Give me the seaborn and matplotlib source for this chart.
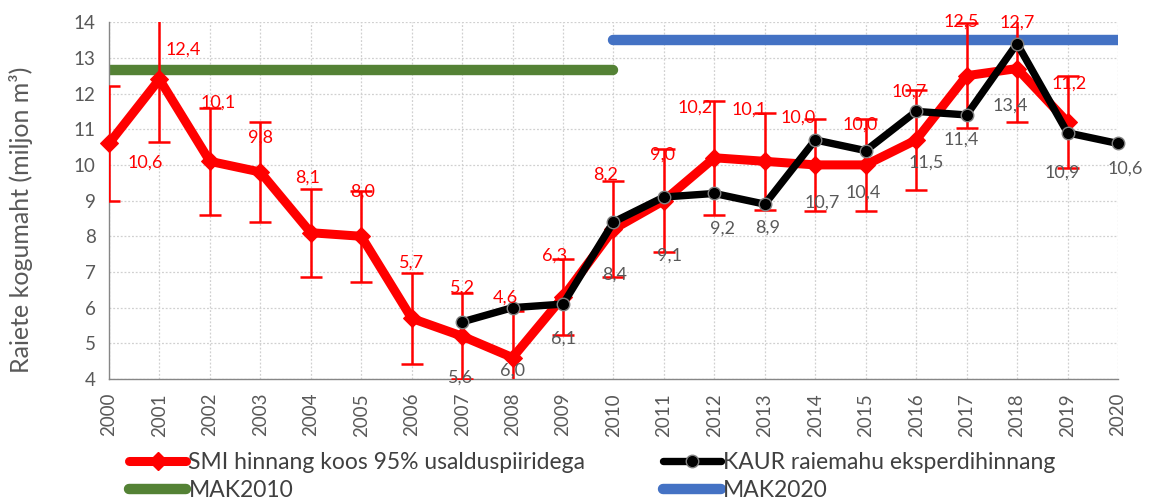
import numpy as np
import pandas as pd
import seaborn as sns
import matplotlib.pyplot as plt
from matplotlib.lines import Line2D

# data
smi_years = list(range(2000, 2020))
smi_values = [10.6, 12.4, 10.1, 9.8, 8.1, 8.0, 5.7, 5.2, 4.6, 6.3,
              8.2, 9.0, 10.2, 10.1, 10.0, 10.0, 10.7, 12.5, 12.7, 11.2]
smi_err = [1.6, 1.75, 1.5, 1.4, 1.23, 1.27, 1.27, 1.2, 1.3, 1.06,
           1.35, 1.45, 1.6, 1.35, 1.3, 1.3, 1.4, 1.47, 1.5, 1.3]
kaur_years = list(range(2007, 2021))
kaur_values = [5.6, 6.0, 6.1, 8.4, 9.1, 9.2, 8.9, 10.7, 10.4, 11.5, 11.4, 13.4, 10.9, 10.6]
mak2010_years = [2000, 2010]
mak2010_level = [12.65, 12.65]
mak2020_years = [2010, 2020]
mak2020_level = [13.5, 13.5]

# label offsets in points (placement only)
smi_lbl_off = [(26, -14), (17, 21), (6, 42), (0, 25), (-2, 40), (1, 32), (0, 40), (0, 35),
               (-5, 43), (-6, 30), (-6, 39), (-1, 33), (-14, 36), (-11, 37), (-12, 34),
               (-4, 29), (-5, 35), (-4, 39), (0, 33), (1, 28)]
kaur_lbl_off = [(-1, -40), (0, -45), (0, -25), (1, -38), (4, -42), (6, -25), (2, -17),
                (5, -45), (-2, -30), (7, -37), (-4, -18), (-5, -45), (-4, -29), (5, -18)]

RED = "#FF0000"
GREEN = "#548235"
BLUE = "#4472C4"
GRAY = "#595959"

sns.set_style("white")
plt.rcParams["font.family"] = ["Lato", "DejaVu Sans"]

fig = plt.figure(figsize=(11.51, 5.04), dpi=100)
ax = fig.add_axes([0.0947, 0.248, 0.9713 - 0.0947, 0.956 - 0.248])

ax.grid(True, color="#d0d0d0", linestyle=(0, (1.5, 1.5)), linewidth=0.9)
ax.set_axisbelow(True)

sns.lineplot(x=mak2010_years, y=mak2010_level, ax=ax, color=GREEN, lw=7.5,
             solid_capstyle="round", zorder=2)
sns.lineplot(x=mak2020_years, y=mak2020_level, ax=ax, color=BLUE, lw=7.5,
             solid_capstyle="round", zorder=2)

ax.errorbar(smi_years, smi_values, yerr=smi_err, fmt="none", ecolor=RED,
            elinewidth=1.8, capsize=8, capthick=1.8, zorder=3)
sns.lineplot(x=smi_years, y=smi_values, ax=ax, color=RED, lw=6.5, marker="D",
             markersize=9, markeredgecolor=RED, clip_on=False, zorder=4)
sns.lineplot(x=kaur_years, y=kaur_values, ax=ax, color="black", lw=5.3, marker="o",
             markersize=9, markeredgecolor="#808080", markeredgewidth=1,
             clip_on=False, zorder=5)

def fmt(v):
    return f"{v:.1f}".replace(".", ",")

for x, y, off in zip(smi_years, smi_values, smi_lbl_off):
    ax.annotate(fmt(y), (x, y), xytext=off, textcoords="offset points",
                ha="center", va="center", color=RED, fontsize=13, zorder=6,
                annotation_clip=False)
for x, y, off in zip(kaur_years, kaur_values, kaur_lbl_off):
    ax.annotate(fmt(y), (x, y), xytext=off, textcoords="offset points",
                ha="center", va="center", color=GRAY, fontsize=13, zorder=6,
                annotation_clip=False)

ax.set_xlim(2000, 2020)
ax.set_ylim(4, 14)
ax.set_xticks(range(2000, 2021))
ax.set_xticklabels([str(y) for y in range(2000, 2021)], rotation=90)
ax.set_yticks(range(4, 15))
ax.tick_params(axis="both", colors="#868686", labelcolor=GRAY, labelsize=13.5,
               length=6, width=1, direction="out")
ax.tick_params(axis="x", pad=4)
for s in ["top", "right"]:
    ax.spines[s].set_visible(False)
for s in ["left", "bottom"]:
    ax.spines[s].set_color("#868686")
    ax.spines[s].set_linewidth(1)

ax.set_xlabel("")
ax.set_ylabel("Raiete kogumaht (miljon m³)", fontsize=18, color=GRAY)
ax.yaxis.set_label_coords(-0.075, 0.445)

handles = [
    Line2D([], [], color=RED, lw=6.5, marker="D", markersize=9),
    Line2D([], [], color=GREEN, lw=7.5, solid_capstyle="round"),
    Line2D([], [], color="black", lw=5.3, marker="o", markersize=9,
           markeredgecolor="#808080"),
    Line2D([], [], color=BLUE, lw=7.5, solid_capstyle="round"),
]
labels = ["SMI hinnang koos 95% usalduspiiridega", "MAK2010",
          "KAUR raiemahu eksperdihinnang", "MAK2020"]
fig.legend(handles, labels, ncol=2, loc="upper left",
           bbox_to_anchor=(0.104, 0.122), frameon=False, fontsize=16.5,
           labelcolor="#404040", handlelength=2.5, handletextpad=0.1,
           columnspacing=3.4, labelspacing=0.3, borderaxespad=0)

fig.savefig("out.png", dpi=100)
